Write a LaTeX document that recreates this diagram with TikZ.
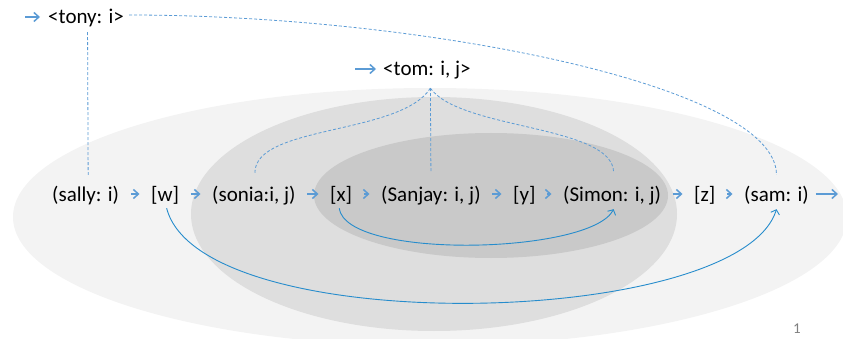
\documentclass[tikz,border=0pt]{standalone}
\usepackage{fontspec}
\setmainfont{Carlito}
\usetikzlibrary{arrows.meta,calc}
\definecolor{dashblue}{RGB}{91,155,213}
\definecolor{solidblue}{RGB}{38,140,204}
\definecolor{flowblue}{RGB}{91,155,213}
\definecolor{outerg}{RGB}{243,243,243}
\definecolor{midg}{RGB}{222,222,222}
\definecolor{innerg}{RGB}{201,201,201}
\definecolor{pggray}{RGB}{128,128,128}
\begin{document}
\begin{tikzpicture}[x=1pt,y=-1pt,
 lbl/.style={font=\fontsize{21}{25}\selectfont, inner sep=0pt, text height=17pt, text depth=3pt, anchor=base west},
 flow/.style={draw=flowblue, line width=1.5pt, -{Straight Barb[length=5pt,width=9pt]}, shorten <=11.5pt, shorten >=11.5pt},
 dashlink/.style={draw=dashblue, line width=0.8pt, dash pattern=on 3pt off 2pt},
 jump/.style={draw=solidblue, line width=0.9pt, -{Straight Barb[length=4pt,width=9pt]}},
]
\useasboundingbox (0,0) rectangle (843,339);
\begin{scope}
\clip (0,0) rectangle (843,339);
\fill[outerg] (430,217) ellipse [x radius=417, y radius=129];
\fill[midg] (434,214) ellipse [x radius=243, y radius=117];
\fill[innerg] (491,195.5) ellipse [x radius=177, y radius=62.5];
\end{scope}

\node[lbl] (tony) at (48,24) {<tony: i>};
\node[lbl] (tom) at (383,76) {<tom: i, j>};

\node[lbl] (sally) at (52,201) {(sally: i)};
\node[lbl] (w) at (151,201) {[w]};
\node[lbl] (sonia) at (212,201) {(sonia:i, j)};
\node[lbl] (x) at (330,201) {[x]};
\node[lbl] (sanjay) at (381,201) {(Sanjay: i, j)};
\node[lbl] (y) at (513,201) {[y]};
\node[lbl] (simon) at (563,201) {(Simon: i, j)};
\node[lbl] (z) at (694,201) {[z]};
\node[lbl] (sam) at (744,201) {(sam: i)};

\node[font=\fontsize{15}{17}\selectfont, text=pggray] (pg) at (797,329) {1};

\coordinate (tonyin) at (25,17);
\coordinate (tomin) at (355,69);
\coordinate (samout) at (838,194);

\draw[flow] (sally.east) -- (w.west);
\draw[flow] (w.east) -- (sonia.west);
\draw[flow] (sonia.east) -- (x.west);
\draw[flow] (x.east) -- (sanjay.west);
\draw[flow] (sanjay.east) -- (y.west);
\draw[flow] (y.east) -- (simon.west);
\draw[flow] (simon.east) -- (z.west);
\draw[flow] (z.east) -- (sam.west);
\draw[flow, shorten <=7pt, shorten >=0pt] (sam.east) -- (samout);
\draw[flow, shorten <=0pt, shorten >=8pt] (tonyin) -- (tony.west);
\draw[flow, shorten <=0pt, shorten >=7pt] (tomin) -- (tom.west);

\draw[dashlink] ($(tony.south)+(1.5,5)$) -- ($(sally.north)+(2.5,-9)$);
\draw[dashlink] ($(tony.east)+(5,-2)$) .. controls +(290,0) and +(0,-90) .. ($(sam.north)+(0,-9)$);

\coordinate (tomf) at ($(tom.south)+(3.5,9)$);
\draw[dashlink] (tomf) -- ($(sanjay.north)+(0,-11)$);
\draw[dashlink] (tomf) .. controls +(-30,47) and +(0,-48) .. ($(sonia.north)+(1,-11)$);
\draw[dashlink] (tomf) .. controls +(30,42) and +(0,-48) .. ($(simon.north)+(1.5,-11)$);

\coordinate (wb) at ($(w.south)+(1.5,4)$);
\coordinate (samb) at ($(sam.south)+(0,5)$);
\draw[jump] (wb) .. controls +(34,132) and +(-37,120) .. (samb);
\coordinate (xb) at ($(x.south)+(-2,4)$);
\coordinate (simonb) at ($(simon.south)+(1.5,5)$);
\draw[jump] (xb) .. controls +(7,52) and +(-23,45) .. (simonb);
\end{tikzpicture}
\end{document}
